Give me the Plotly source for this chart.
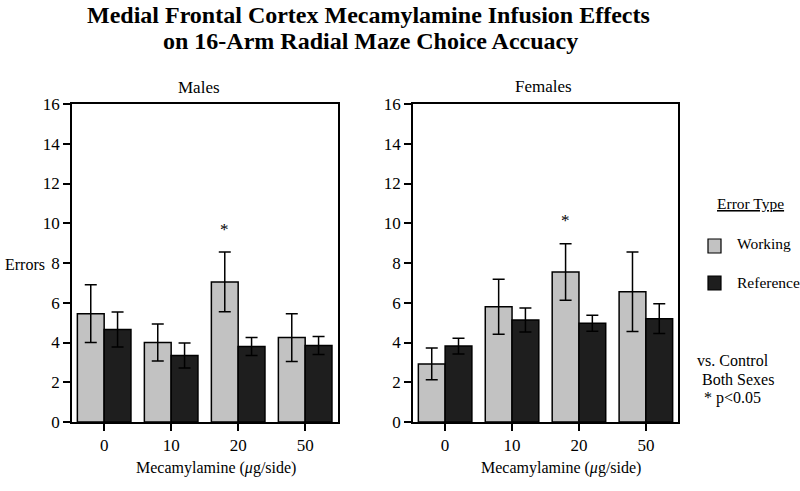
import plotly.graph_objects as go

doses = ["0", "10", "20", "50"]
males_working = [5.45, 4.0, 7.05, 4.25]
males_working_err = [1.45, 0.93, 1.5, 1.2]
males_reference = [4.65, 3.35, 3.8, 3.85]
males_reference_err = [0.88, 0.63, 0.45, 0.45]
females_working = [2.92, 5.8, 7.55, 6.55]
females_working_err = [0.8, 1.38, 1.42, 2.0]
females_reference = [3.82, 5.13, 4.97, 5.2]
females_reference_err = [0.4, 0.6, 0.4, 0.75]
y_ticks = [0, 2, 4, 6, 8, 10, 12, 14, 16]
sig_males = [(2, 9.7)]
sig_females = [(2, 10.15)]

FONT = "Liberation Serif"
GRAY = "#c2c2c2"
DARK = "#1e1e1e"
xpos = list(range(len(doses)))

fig = go.Figure()


def add_bars(vals, errs, color, name, xa, ya):
    fig.add_trace(go.Bar(
        x=xpos, y=vals, name=name, xaxis=xa, yaxis=ya,
        marker=dict(color=color, line=dict(color="black", width=1.5)),
        error_y=dict(type="data", array=errs, visible=True, color="black",
                     thickness=1.5, width=6),
        showlegend=False,
    ))


add_bars(males_working, males_working_err, GRAY, "Working", "x", "y")
add_bars(males_reference, males_reference_err, DARK, "Reference", "x", "y")
add_bars(females_working, females_working_err, GRAY, "Working", "x2", "y2")
add_bars(females_reference, females_reference_err, DARK, "Reference", "x2", "y2")

W, H = 800, 491
ydom = [1 - 422 / H, 1 - 104 / H]
axis_common = dict(showline=True, linecolor="black", linewidth=1.5, mirror=True,
                   ticks="outside", ticklen=7, tickwidth=1.5, tickcolor="black",
                   showgrid=False, zeroline=False, automargin=False,
                   tickfont=dict(family=FONT, size=17, color="black"))

fig.update_layout(
    width=W, height=H,
    margin=dict(l=0, r=0, t=0, b=0, autoexpand=False),
    paper_bgcolor="white", plot_bgcolor="white",
    barmode="group", bargap=0.2, bargroupgap=0,
    xaxis=dict(domain=[72 / W, 338 / W], range=[-0.48, 3.49],
               tickvals=xpos, ticktext=doses, anchor="y", **axis_common),
    yaxis=dict(domain=ydom, range=[0, 16], tickvals=y_ticks, anchor="x",
               **axis_common),
    xaxis2=dict(domain=[413 / W, 678 / W], range=[-0.48, 3.48],
                tickvals=xpos, ticktext=doses, anchor="y2", **axis_common),
    yaxis2=dict(domain=ydom, range=[0, 16], tickvals=y_ticks, anchor="x2",
                **axis_common),
    font=dict(family=FONT, color="black"),
)

ann = []


def txt(x, y, s, size=16, xanchor="center", bold=False, under=False):
    f = dict(family=FONT, size=size, color="black")
    if bold:
        f["weight"] = "bold"
    if under:
        f["lineposition"] = "under"
    ann.append(dict(x=x / W, y=1 - y / H, xref="paper", yref="paper", text=s,
                    showarrow=False, xanchor=xanchor, yanchor="middle", font=f))


txt(368, 15, "Medial Frontal Cortex Mecamylamine Infusion Effects", size=24, bold=True)
txt(370, 41, "on 16-Arm Radial Maze Choice Accuacy", size=24, bold=True)
txt(199, 87, "Males", size=17)
txt(543, 86, "Females", size=17)
txt(3, 264, "Errors", size=16, xanchor="left")
txt(216, 468, "Mecamylamine (<i>μ</i>g/side)", size=16)
txt(561, 468, "Mecamylamine (<i>μ</i>g/side)", size=16)
txt(750, 203, "Error Type", size=15.5, under=True)
txt(735, 243, "Working", size=15.5, xanchor="left")
txt(735, 282, "Reference", size=15.5, xanchor="left")
txt(695, 360, "vs. Control", size=16, xanchor="left")
txt(700, 379, "Both Sexes", size=16, xanchor="left")
txt(702, 398, "* p<0.05", size=16, xanchor="left")

for (i, yv) in sig_males:
    ann.append(dict(x=xpos[i] - 0.2, y=yv, xref="x", yref="y", text="*",
                    showarrow=False, font=dict(family=FONT, size=17, color="black")))
for (i, yv) in sig_females:
    ann.append(dict(x=xpos[i] - 0.2, y=yv, xref="x2", yref="y2", text="*",
                    showarrow=False, font=dict(family=FONT, size=17, color="black")))

fig.update_layout(annotations=ann)

# legend swatches
shapes = []
for (cy, col) in [(246, GRAY), (283, DARK)]:
    shapes.append(dict(type="rect", xref="paper", yref="paper",
                       x0=708 / W, x1=721 / W, y0=1 - (cy + 7) / H, y1=1 - (cy - 7) / H,
                       fillcolor=col, line=dict(color="black", width=1.2)))
fig.update_layout(shapes=shapes)

fig.write_html("out.html", config={"displayModeBar": False},
               post_script="document.body.style.margin='0';document.body.style.overflow='hidden';")
